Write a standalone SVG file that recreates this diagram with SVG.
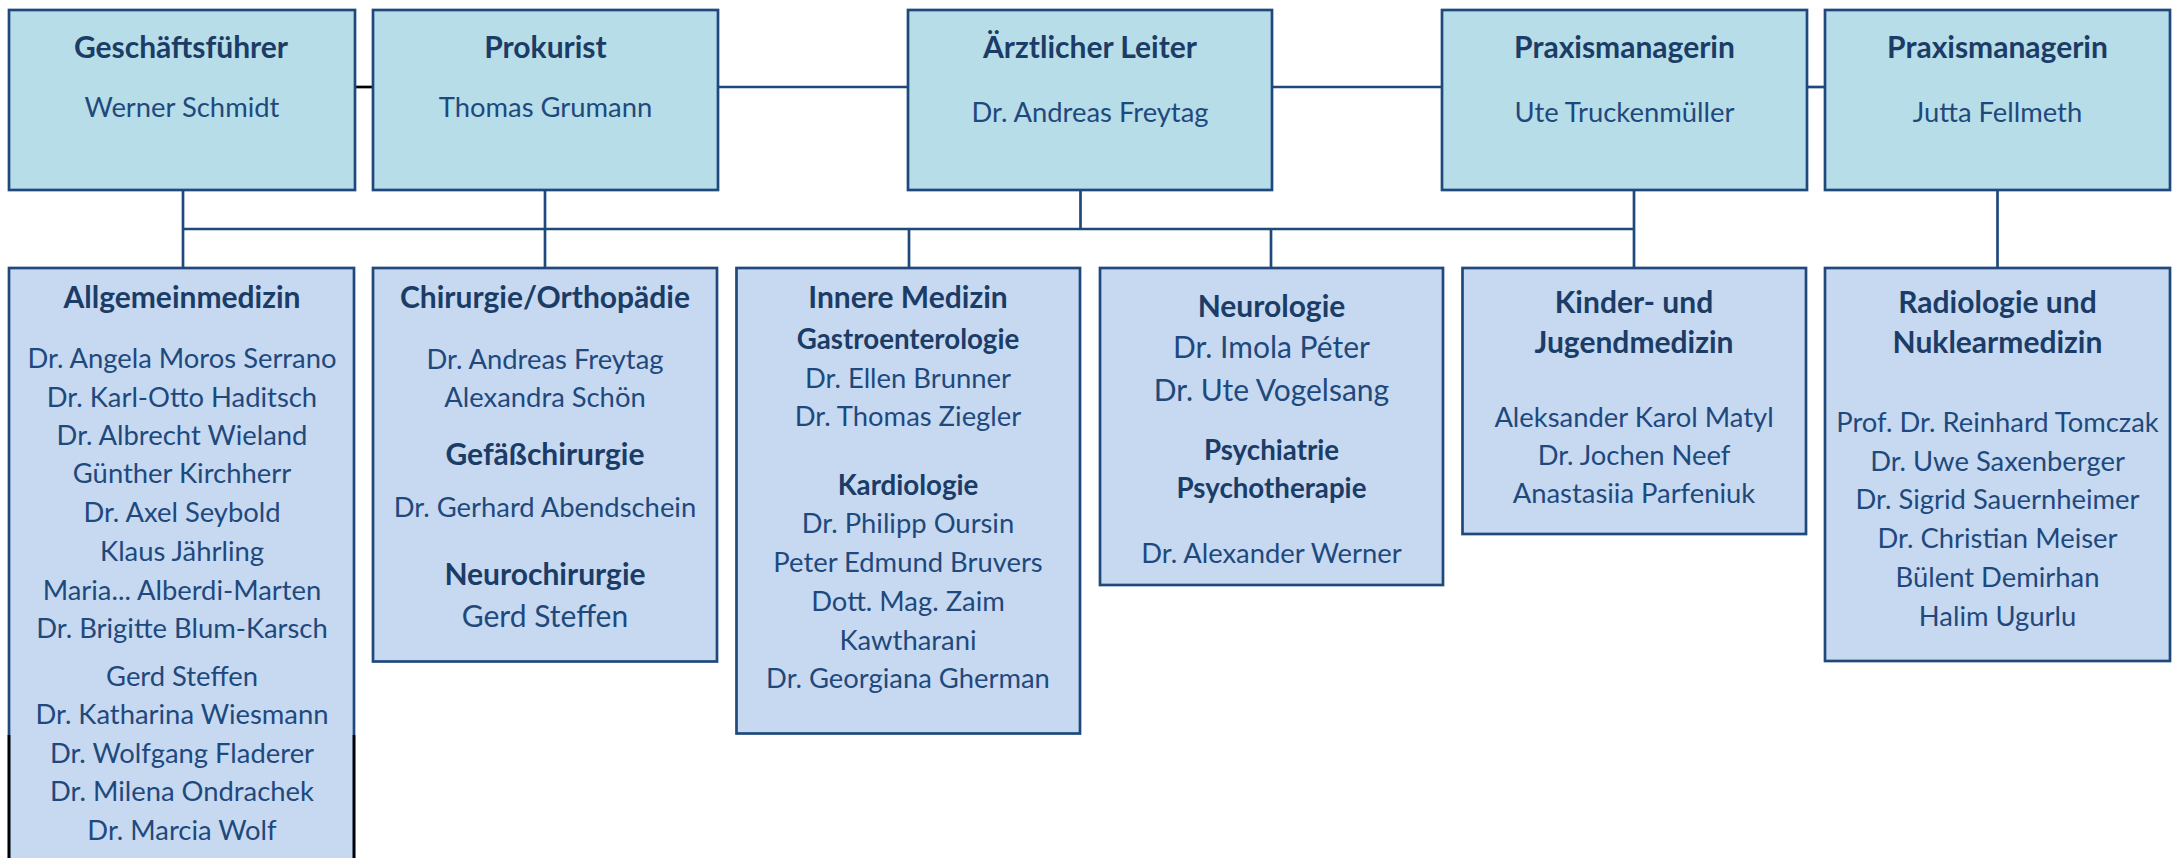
<svg xmlns="http://www.w3.org/2000/svg" width="2176" height="858" viewBox="0 0 2176 858">
<style>
.top{fill:#B7DDE8;stroke:#1F497D;stroke-width:2.7}
.dep{fill:#C6D9F1;stroke:#1F497D;stroke-width:2.7}
.ln{stroke:#1F497D;stroke-width:2.7;fill:none}
.blk{stroke:#000000;stroke-width:2.7;fill:none}
text{font-family:Lato,"Open Sans","Liberation Sans",sans-serif;text-anchor:middle}
.h{font-weight:bold;font-size:30px;fill:#1B3C66}
.s{font-weight:bold;font-size:27.7px;fill:#1B3C66}
.n{font-size:27.4px;fill:#1F497D}
.L{font-size:30px;fill:#1F497D}
</style>
<rect width="2176" height="858" fill="#FFFFFF"/>
<g id="connectors">
<line class="blk" x1="355" y1="87" x2="373" y2="87"/>
<line class="ln" x1="718" y1="87" x2="908" y2="87"/>
<line class="ln" x1="1272" y1="87" x2="1442" y2="87"/>
<line class="ln" x1="1807" y1="87" x2="1825" y2="87"/>
<line class="ln" x1="183" y1="229" x2="1634" y2="229"/>
<line class="ln" x1="183" y1="190" x2="183" y2="268"/>
<line class="ln" x1="545" y1="190" x2="545" y2="268"/>
<line class="ln" x1="1080.5" y1="190" x2="1080.5" y2="229"/>
<line class="ln" x1="1634" y1="190" x2="1634" y2="268"/>
<line class="ln" x1="909" y1="229" x2="909" y2="268"/>
<line class="ln" x1="1271" y1="229" x2="1271" y2="268"/>
<line class="ln" x1="1997.5" y1="190" x2="1997.5" y2="268"/>
</g>
<g id="geschaeftsfuehrer">
<rect class="top" x="9" y="10" width="346" height="180"/>
<text class="h" x="181" y="58">Geschäftsführer</text>
<text class="n" x="182" y="116.5">Werner Schmidt</text>
</g>
<g id="prokurist">
<rect class="top" x="373" y="10" width="345" height="180"/>
<text class="h" x="545.5" y="58">Prokurist</text>
<text class="n" x="545.5" y="116.5">Thomas Grumann</text>
</g>
<g id="aerztlicher-leiter">
<rect class="top" x="908" y="10" width="364" height="180"/>
<text class="h" x="1090" y="58">Ärztlicher Leiter</text>
<text class="n" x="1090" y="121.5">Dr. Andreas Freytag</text>
</g>
<g id="praxismanagerin-1">
<rect class="top" x="1442" y="10" width="365" height="180"/>
<text class="h" x="1624.5" y="58">Praxismanagerin</text>
<text class="n" x="1624.5" y="121.5">Ute Truckenmüller</text>
</g>
<g id="praxismanagerin-2">
<rect class="top" x="1825" y="10" width="345" height="180"/>
<text class="h" x="1997.5" y="58">Praxismanagerin</text>
<text class="n" x="1997.5" y="121.5">Jutta Fellmeth</text>
</g>
<g id="allgemeinmedizin">
<rect class="dep" x="9" y="268" width="345" height="620"/>
<line class="blk" x1="9" y1="735" x2="9" y2="858"/>
<line class="blk" x1="354" y1="735" x2="354" y2="858"/>
<text class="h" x="182" y="308">Allgemeinmedizin</text>
<text class="n" x="182" y="368.3">Dr. Angela Moros Serrano</text>
<text class="n" x="182" y="406.7">Dr. Karl-Otto Haditsch</text>
<text class="n" x="182" y="445">Dr. Albrecht Wieland</text>
<text class="n" x="182" y="483.3">Günther Kirchherr</text>
<text class="n" x="182" y="521.7">Dr. Axel Seybold</text>
<text class="n" x="182" y="561">Klaus Jährling</text>
<text class="n" x="182" y="599.5">Maria... Alberdi-Marten</text>
<text class="n" x="182" y="638">Dr. Brigitte Blum-Karsch</text>
<text class="n" x="182" y="685.7">Gerd Steffen</text>
<text class="n" x="182" y="724.3">Dr. Katharina Wiesmann</text>
<text class="n" x="182" y="762.7">Dr. Wolfgang Fladerer</text>
<text class="n" x="182" y="801.3">Dr. Milena Ondrachek</text>
<text class="n" x="182" y="840">Dr. Marcia Wolf</text>
</g>
<g id="chirurgie">
<rect class="dep" x="373" y="268" width="344" height="393.5"/>
<text class="h" x="545" y="308">Chirurgie/Orthopädie</text>
<text class="n" x="545" y="369">Dr. Andreas Freytag</text>
<text class="n" x="545" y="407.3">Alexandra Schön</text>
<text class="h" x="545" y="465">Gefäßchirurgie</text>
<text class="n" x="545" y="517.3">Dr. Gerhard Abendschein</text>
<text class="h" x="545" y="585">Neurochirurgie</text>
<text class="L" x="545" y="627.3">Gerd Steffen</text>
</g>
<g id="innere-medizin">
<rect class="dep" x="736.5" y="268" width="343.5" height="465.5"/>
<text class="h" x="908" y="308">Innere Medizin</text>
<text class="s" x="908" y="349.3">Gastroenterologie</text>
<text class="n" x="908" y="387.7">Dr. Ellen Brunner</text>
<text class="n" x="908" y="426">Dr. Thomas Ziegler</text>
<text class="s" x="908" y="495">Kardiologie</text>
<text class="n" x="908" y="532.7">Dr. Philipp Oursin</text>
<text class="n" x="908" y="571.7">Peter Edmund Bruvers</text>
<text class="n" x="908" y="610.7">Dott. Mag. Zaim</text>
<text class="n" x="908" y="650">Kawtharani</text>
<text class="n" x="908" y="688.3">Dr. Georgiana Gherman</text>
</g>
<g id="neurologie">
<rect class="dep" x="1100" y="268" width="343" height="317"/>
<text class="h" x="1271.5" y="317.3">Neurologie</text>
<text class="L" x="1271.5" y="358.3">Dr. Imola Péter</text>
<text class="L" x="1271.5" y="400.7">Dr. Ute Vogelsang</text>
<text class="s" x="1271.5" y="460">Psychiatrie</text>
<text class="s" x="1271.5" y="498.3">Psychotherapie</text>
<text class="n" x="1271.5" y="563.3">Dr. Alexander Werner</text>
</g>
<g id="kinder-jugendmedizin">
<rect class="dep" x="1462.5" y="268" width="343.5" height="266"/>
<text class="h" x="1634" y="312.7">Kinder- und</text>
<text class="h" x="1634" y="353.3">Jugendmedizin</text>
<text class="n" x="1634" y="426.7">Aleksander Karol Matyl</text>
<text class="n" x="1634" y="465">Dr. Jochen Neef</text>
<text class="n" x="1634" y="503.3">Anastasiia Parfeniuk</text>
</g>
<g id="radiologie">
<rect class="dep" x="1825" y="268" width="345" height="393"/>
<text class="h" x="1997.5" y="312.7">Radiologie und</text>
<text class="h" x="1997.5" y="353.3">Nuklearmedizin</text>
<text class="n" x="1997.5" y="431.7">Prof. Dr. Reinhard Tomczak</text>
<text class="n" x="1997.5" y="470.7">Dr. Uwe Saxenberger</text>
<text class="n" x="1997.5" y="509.3">Dr. Sigrid Sauernheimer</text>
<text class="n" x="1997.5" y="548.3">Dr. Christian Meiser</text>
<text class="n" x="1997.5" y="586.7">Bülent Demirhan</text>
<text class="n" x="1997.5" y="625.5">Halim Ugurlu</text>
</g>
</svg>
